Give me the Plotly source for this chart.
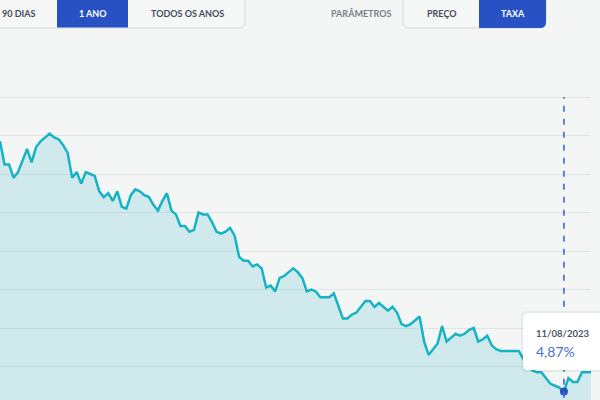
import plotly.graph_objects as go
import pandas as pd

# ---- data ----
taxa = [6.17, 6.05, 6.05, 5.98, 6.01, 6.07, 6.13, 6.06, 6.14, 6.17,
        6.19, 6.21, 6.19, 6.18, 6.15, 6.11, 5.98, 6.01, 5.95, 6.01,
        6.00, 5.99, 5.91, 5.88, 5.90, 5.86, 5.91, 5.83, 5.82, 5.89,
        5.92, 5.91, 5.89, 5.88, 5.84, 5.81, 5.86, 5.90, 5.81, 5.79,
        5.73, 5.73, 5.70, 5.71, 5.80, 5.79, 5.79, 5.75, 5.70, 5.69,
        5.70, 5.72, 5.68, 5.57, 5.55, 5.55, 5.52, 5.53, 5.51, 5.41,
        5.42, 5.39, 5.46, 5.47, 5.49, 5.51, 5.49, 5.46, 5.39, 5.40,
        5.39, 5.36, 5.36, 5.36, 5.38, 5.31, 5.25, 5.25, 5.27, 5.28,
        5.31, 5.34, 5.34, 5.31, 5.33, 5.31, 5.29, 5.31, 5.28, 5.22,
        5.21, 5.22, 5.24, 5.26, 5.13, 5.06, 5.09, 5.12, 5.21, 5.13,
        5.15, 5.17, 5.16, 5.17, 5.19, 5.20, 5.13, 5.14, 5.16, 5.11,
        5.09, 5.08, 5.08, 5.08, 5.08, 5.08, 5.04, 5.00, 4.98, 4.97,
        4.97, 4.94, 4.91, 4.90, 4.89, 4.87, 4.94, 4.92, 4.92, 4.97,
        4.97, 4.97]
datas = [d.strftime("%d/%m/%Y") for d in pd.bdate_range(end="2023-08-21", periods=len(taxa))]
sel_data = "11/08/2023"
sel_idx = datas.index(sel_data)
sel_val = taxa[sel_idx]
y_max = 6.4
periodos = ["90 DIAS", "1 ANO", "TODOS OS ANOS"]
parametros = ["PREÇO", "TAXA"]

# ---- layout helpers (pixel -> paper) ----
PW, TOP, PH = 591, 88, 312
def px(x): return x / PW
def py(y): return (400 - y) / PH

def rrect(x0, y0, x1, y1, r=(0, 0, 0, 0)):
    tl, tr, br, bl = r
    def P(x, y): return f"{px(x):.5f},{py(y):.5f}"
    s = f"M {P(x0+tl, y0)} L {P(x1-tr, y0)} Q {P(x1, y0)} {P(x1, y0+tr)} "
    s += f"L {P(x1, y1-br)} Q {P(x1, y1)} {P(x1-br, y1)} "
    s += f"L {P(x0+bl, y1)} Q {P(x0, y1)} {P(x0, y1-bl)} "
    s += f"L {P(x0, y0+tl)} Q {P(x0, y0)} {P(x0+tl, y0)} Z"
    return s

BG = "#f4f5f5"
BLUE = "#2852c4"
TEXT = "#454b5a"
TEAL = "#17b3c5"

fig = go.Figure()
fig.add_trace(go.Scatter(
    x=datas, y=taxa, mode="lines",
    line=dict(color=TEAL, width=2.5),
    fill="tozeroy", fillcolor="rgba(23,179,197,0.17)",
    hoverinfo="skip", showlegend=False))
fig.add_trace(go.Scatter(
    x=[sel_data], y=[sel_val], mode="markers",
    marker=dict(color=BLUE, size=8), hoverinfo="skip", showlegend=False))

shapes = []
# dashed crosshair
shapes.append(dict(type="line", xref="x", yref="y", x0=sel_idx, x1=sel_idx, y0=4.5, y1=y_max,
                   line=dict(color="#3a6ad6", width=1.6, dash="6px,7px"), layer="above"))
# tooltip shadow + box
shapes.append(dict(type="path", xref="paper", yref="paper", path=rrect(521, 311, 640, 372, (6, 6, 6, 6)),
                   fillcolor="rgba(0,0,0,0.05)", line=dict(width=0), layer="above"))
shapes.append(dict(type="path", xref="paper", yref="paper", path=rrect(523, 313, 640, 370, (5, 5, 5, 5)),
                   fillcolor="#ffffff", line=dict(width=0), layer="above"))
# buttons
shapes.append(dict(type="path", xref="paper", yref="paper", path=rrect(-10, -10, 245, 28, (0, 6, 6, 0)),
                   fillcolor="#f6f7f7", line=dict(color="#d8dbdb", width=1), layer="above"))
shapes.append(dict(type="path", xref="paper", yref="paper", path=rrect(57, -10, 128, 27.5),
                   fillcolor=BLUE, line=dict(width=0), layer="above"))
shapes.append(dict(type="path", xref="paper", yref="paper", path=rrect(403, -10, 546, 28, (0, 6, 6, 6)),
                   fillcolor="#f6f7f7", line=dict(color="#d8dbdb", width=1), layer="above"))
shapes.append(dict(type="path", xref="paper", yref="paper", path=rrect(479, -10, 546, 28, (0, 6, 6, 0)),
                   fillcolor=BLUE, line=dict(width=0), layer="above"))

FONT = "Lato"
ann = []
def label(text, x, y, color, size=9, weight=700, anchor="center"):
    ann.append(dict(text=text, x=px(x), y=py(y), xref="paper", yref="paper", showarrow=False,
                    xanchor=anchor, yanchor="middle",
                    font=dict(family=FONT, size=size, color=color, weight=weight)))

label(periodos[0], 18, 13.5, TEXT)
label(periodos[1], 93, 13.5, "#ffffff")
label(periodos[2], 187, 13.5, TEXT)
label("PARÂMETROS", 361, 13.5, "#7b8088")
label(parametros[0], 441, 13.5, TEXT)
label(parametros[1], 513, 13.5, "#ffffff")
label(sel_data, 534, 333, "#4d5266", size=9.5, weight=700, anchor="left")
label(f"{sel_val:.2f}%".replace(".", ","), 534, 351.5, "#4a6fd4", size=14, weight=400, anchor="left")

PXU = 192.5  # pixels per 1 percentage point
top_val = y_max + (97 - TOP) / PXU
bot_val = top_val - PH / PXU
fig.update_layout(
    width=600, height=400,
    margin=dict(l=0, r=600 - PW, t=TOP, b=0),
    paper_bgcolor=BG, plot_bgcolor=BG,
    shapes=shapes, annotations=ann,
    xaxis=dict(type="category", range=[0, len(taxa) - 1], showgrid=False, showticklabels=False,
               zeroline=False, showline=False, ticks=""),
    yaxis=dict(range=[bot_val, top_val], tick0=5.0, dtick=0.2, showgrid=True, gridcolor="#e2e4e4",
               gridwidth=1, showticklabels=False, zeroline=False, showline=False, ticks=""),
    hovermode=False,
)
fig.write_html("out.html", config={"displayModeBar": False})
